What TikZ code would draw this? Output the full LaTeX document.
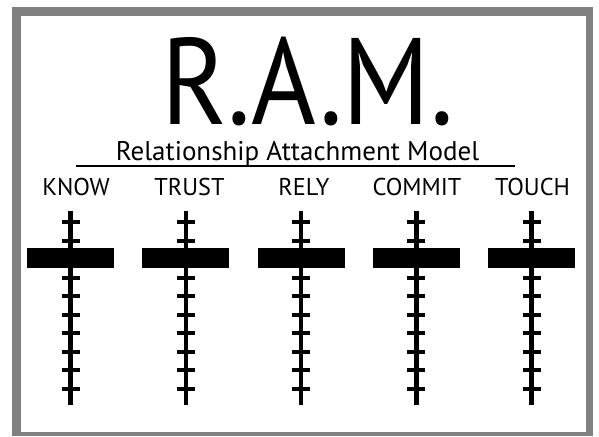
\documentclass[tikz,border=0pt]{standalone}
\usepackage{fontspec}
\setmainfont{PT Sans}
\usetikzlibrary{positioning}
\definecolor{framegray}{HTML}{808080}
\tikzset{
  stem/.style={line width=4.5pt},
  tick/.style={line width=4.3pt},
  slider/.style={fill=black, minimum width=87pt, minimum height=20pt, inner sep=0pt},
  barlabel/.style={anchor=base, font=\fontsize{24.3}{24.3}\selectfont},
}

\begin{document}
\begin{tikzpicture}[x=1pt,y=-1pt]
  \useasboundingbox (0,0) rectangle (599,436);
  % frame
  \fill[framegray] (12,7) rectangle (593,436);
  \fill[white] (21,16) rectangle (586,432);

  \node[anchor=base, inner sep=0pt] (title) at (308,124) {\fontsize{123}{123}\selectfont\scalebox{0.9}[1]{R.A.M.}};
  \node[anchor=base, inner sep=0pt] (subtitle) at (297.5,160) {\fontsize{27}{27}\selectfont Relationship Attachment Model};
  \draw[line width=1.5pt] (76,166) -- (515,166);

  % the five scales
  \foreach \name/\lx [count=\i from 0] in {KNOW/76,TRUST/189.5,RELY/304,COMMIT/417,TOUCH/532.5} {
    \pgfmathsetmacro\cx{70.5+115.25*\i}
    \node[barlabel] (lab\i) at (\lx,195) {\name};
    \coordinate (top\i) at (\cx,210.7);
    \coordinate (bot\i) at (\cx,405);
    \draw[stem] (top\i) -- (bot\i);
    \node[slider] (bar\i) at (\cx,257.8) {};
    \foreach \k in {0,1,3,4,5,6,7,8,9}
      \draw[tick] (\cx-9,222.3+18.5*\k) -- (\cx+9,222.3+18.5*\k);
  }
\end{tikzpicture}
\end{document}
